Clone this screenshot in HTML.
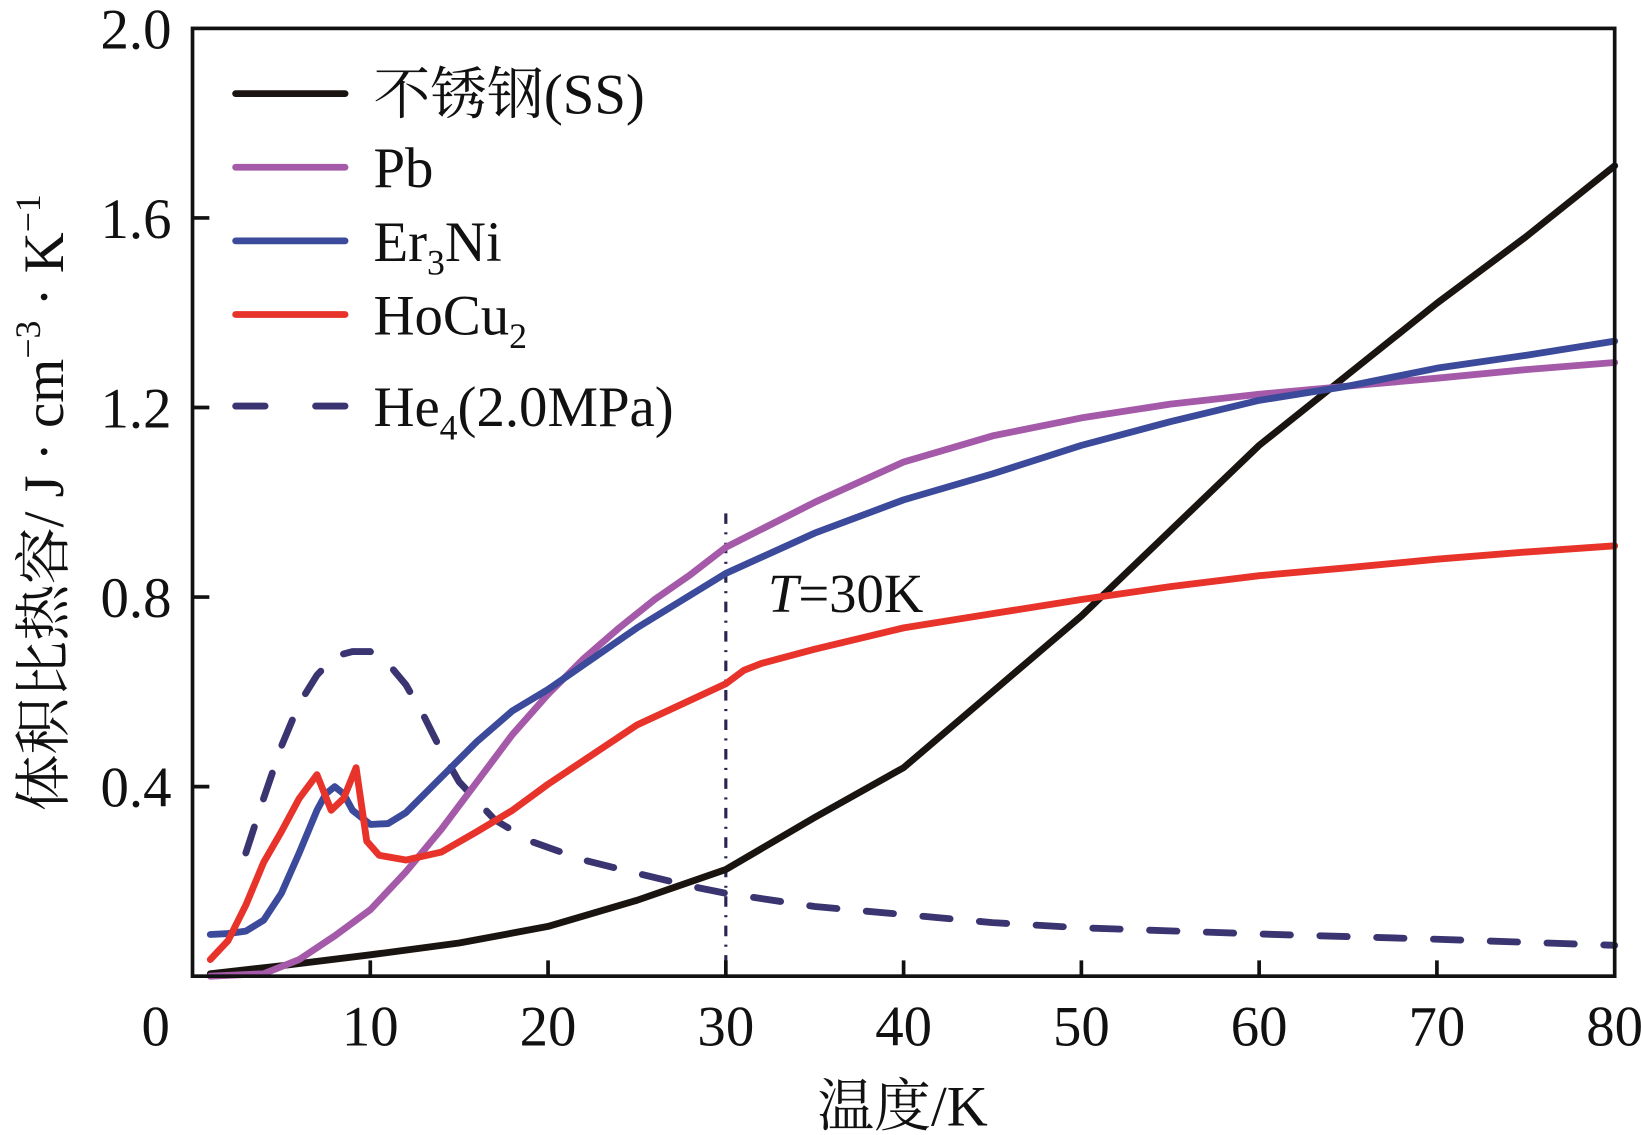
<!DOCTYPE html>
<html><head><meta charset="utf-8"><style>
html,body{margin:0;padding:0;background:#fff;}
svg{display:block;}
text{font-family:"Liberation Serif","Noto Serif CJK SC","Noto Sans CJK SC",serif;fill:#111;}
</style></head><body>
<svg id="chart" width="1641" height="1135" viewBox="0 0 1560 1079" xmlns="http://www.w3.org/2000/svg">
<g id="plot"></g>
</svg>
<script>
const xTicks=[0,10,20,30,40,50,60,70,80];
const yTicks=[0.4,0.8,1.2,1.6,2.0];
const yTickLabels=["0.4","0.8","1.2","1.6","2.0"];
const ssX=[1,5,10,15,20,25,30,35,40,45,50,55,60,65,70,75,80];
const ssY=[0.005,0.022,0.045,0.07,0.105,0.16,0.225,0.335,0.44,0.6,0.76,0.94,1.12,1.27,1.42,1.56,1.71];
const pbX=[1,4,6,8,10,12,14,16,18,20,22,24,26,28,30,35,40,45,50,55,60,65,70,75,80];
const pbY=[0,0.005,0.035,0.085,0.14,0.22,0.31,0.41,0.51,0.595,0.67,0.735,0.795,0.847,0.905,1.0,1.085,1.14,1.178,1.207,1.228,1.245,1.262,1.28,1.295];
const erX=[1,2,3,4,5,6,7,7.5,8,8.5,9,10,11,12,14,16,18,20,25,30,35,40,45,50,55,60,65,70,75,80];
const erY=[0.088,0.09,0.095,0.118,0.175,0.26,0.35,0.385,0.4,0.385,0.35,0.32,0.322,0.345,0.42,0.495,0.56,0.605,0.735,0.85,0.935,1.005,1.06,1.12,1.17,1.215,1.245,1.283,1.31,1.34];
const hoX=[1,2,3,4,5,6,7,7.8,8.5,9.2,9.8,10.5,12,14,16,18,20,25,30,31,32,35,40,45,50,55,60,65,70,75,80];
const hoY=[0.035,0.075,0.15,0.24,0.305,0.375,0.425,0.35,0.375,0.44,0.285,0.255,0.245,0.262,0.305,0.35,0.405,0.53,0.617,0.645,0.66,0.69,0.735,0.765,0.795,0.822,0.845,0.862,0.88,0.895,0.908];
const heX=[3,4,5,6,7,8,9,10,11,12,13,14,15,17,19,22,25,28,30,35,40,45,50,60,70,80];
const heY=[0.26,0.375,0.485,0.575,0.635,0.675,0.685,0.685,0.66,0.615,0.55,0.475,0.41,0.33,0.285,0.245,0.217,0.19,0.175,0.147,0.13,0.113,0.102,0.089,0.078,0.065];

const NS="http://www.w3.org/2000/svg";
const L=183,R=1535,T=27,B=928;
const xs=v=>L+v*(R-L)/80;
const ys=v=>B-v*(B-T)/2.0;
const g=document.getElementById('plot');
function mk(tag,attrs,parent){const e=document.createElementNS(NS,tag);for(const k in attrs)e.setAttribute(k,attrs[k]);(parent||g).appendChild(e);return e;}

function series(xa,ya,color,name,dash){
  const d=xa.map((x,i)=>(i?'L':'M')+xs(x).toFixed(1)+','+ys(ya[i]).toFixed(1)).join(' ');
  const p=mk('path',{d:d,fill:'none',stroke:color,'stroke-width':6.5,'stroke-linejoin':'round','stroke-linecap':'round'});
  if(dash)p.setAttribute('stroke-dasharray',dash);
  
  
}
const vl=mk('line',{x1:xs(30),x2:xs(30),y1:488,y2:B,stroke:'#2a2550','stroke-width':3,'stroke-dasharray':'10 8 2 8'});



series(heX,heY,'#3a3470','he4-series','26 28');
series(ssX,ssY,'#1a1410','ss-series');
series(pbX,pbY,'#a45aa8','pb-series');
series(erX,erY,'#3b4a9a','er3ni-series');
series(hoX,hoY,'#e8332a','hocu2-series');

const fr=mk('rect',{x:L,y:T,width:R-L,height:B-T,fill:'none',stroke:'#111','stroke-width':3.5});


xTicks.forEach(v=>{
  if(v>0&&v<80){const t=mk('line',{x1:xs(v),x2:xs(v),y1:B,y2:B-15,stroke:'#111','stroke-width':3.5});
  
  }
  const lb=mk('text',{x:v===0?148:xs(v),y:994,'font-size':54,'text-anchor':'middle'});
  lb.textContent=String(v);
  
  
});
yTicks.forEach((v,i)=>{
  if(v<2){const t=mk('line',{x1:L,x2:L+16,y1:ys(v),y2:ys(v),stroke:'#111','stroke-width':3.5});
  
  }
  const lb=mk('text',{x:163,y:ys(v)+19,'font-size':54,'text-anchor':'end'});
  lb.textContent=yTickLabels[i];
  
  
});
const an=mk('text',{x:730,y:582,'font-size':52});
an.innerHTML='<tspan font-style="italic">T</tspan>=30K';


const xt=mk('text',{x:858,y:1070,'font-size':54,'text-anchor':'middle'});
xt.textContent='温度/K';


const yt=mk('text',{transform:'translate(60,478) rotate(-90)','font-size':54,'text-anchor':'middle'});
yt.innerHTML='体积比热容/ J · cm<tspan font-size="34" dy="-22">−3</tspan><tspan dy="22"> · K</tspan><tspan font-size="34" dy="-22">−1</tspan>';


const legItems=[['#1a1410','不锈钢(SS)',89,null],['#a45aa8','Pb',159,null],['#3b4a9a','Er<tspan font-size="34" dy="13">3</tspan><tspan dy="-13">Ni</tspan>',229,null],['#e8332a','HoCu<tspan font-size="34" dy="13">2</tspan>',299,null],['#3a3470','He<tspan font-size="34" dy="13">4</tspan><tspan dy="-13">(2.0MPa)</tspan>',386,'28 48']];
legItems.forEach(it=>{
  const ln=mk('line',{x1:224,x2:328,y1:it[2],y2:it[2],stroke:it[0],'stroke-width':6.5,'stroke-linecap':'round'});
  if(it[3])ln.setAttribute('stroke-dasharray',it[3]);
  
  
  const tx=mk('text',{x:355,y:it[2]+19,'font-size':54});
  tx.innerHTML=it[1];
  
  
});
</script>
</body></html>
